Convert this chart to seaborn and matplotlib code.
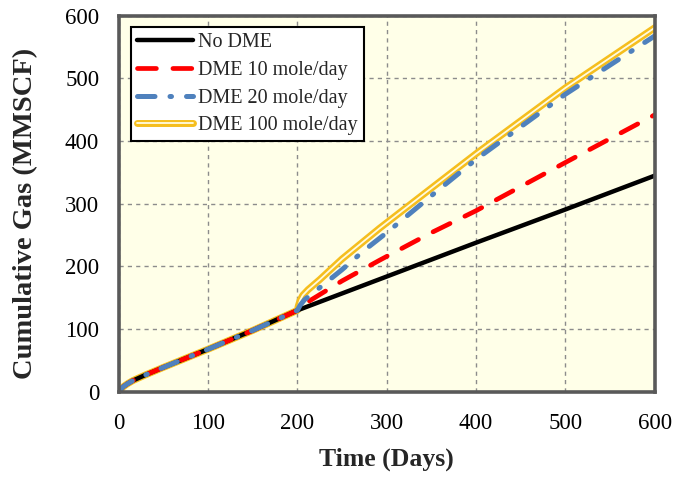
import matplotlib
matplotlib.use("Agg")
import matplotlib.pyplot as plt
import matplotlib.patheffects as pe
import seaborn as sns
import pandas as pd

# ---- data ----
days_pre = [0, 5, 10, 16, 30, 50, 100, 150, 200]
gas_pre = [0, 8, 13, 18, 27, 39, 68, 98, 130]

days_nodme = [250, 300, 400, 500, 600]
gas_nodme = [157, 184, 238, 291, 345]

days_dme10 = [205, 210, 250, 292, 350, 400, 500, 600]
gas_dme10 = [136, 142, 177, 210, 254, 289, 366, 442]

days_dme20 = [203, 208, 217, 250, 275, 300, 350, 400, 500, 600]
gas_dme20 = [138, 147, 157, 195, 226, 254, 313, 371, 475, 568]

days_dme100 = [201, 203, 206, 212, 225, 250, 292, 350, 400, 500, 600]
gas_dme100 = [137, 146, 154, 163, 179, 212, 261, 325, 380, 485, 581]

labels = ["No DME", "DME 10 mole/day", "DME 20 mole/day", "DME 100 mole/day"]
x_ticks = [0, 100, 200, 300, 400, 500, 600]
y_ticks = [0, 100, 200, 300, 400, 500, 600]

def series(d, g):
    return pd.DataFrame({"Time": days_pre + d, "Gas": gas_pre + g})

sns.set_style("white")
plt.rcParams["font.family"] = ["Liberation Serif", "DejaVu Serif"]

fig = plt.figure(figsize=(6.9, 4.79), dpi=100)
ax = fig.add_axes([0.172, 0.182, 0.777, 0.785])
ax.set_facecolor("#FFFFE8")

df100 = series(days_dme100, gas_dme100)
df0 = series(days_nodme, gas_nodme)
df10 = series(days_dme10, gas_dme10)
df20 = series(days_dme20, gas_dme20)

sns.lineplot(data=df100, x="Time", y="Gas", ax=ax, color="#FFFBE0", lw=1.3,
             estimator=None, sort=False, label=labels[3], zorder=3,
             path_effects=[pe.Stroke(linewidth=5, foreground="#F5BE1E"), pe.Normal()])
sns.lineplot(data=df0, x="Time", y="Gas", ax=ax, color="black", lw=3.2,
             estimator=None, sort=False, label=labels[0], zorder=4)
sns.lineplot(data=df10, x="Time", y="Gas", ax=ax, color="#FF0000", lw=3.4,
             estimator=None, sort=False, label=labels[1], zorder=5)
sns.lineplot(data=df20, x="Time", y="Gas", ax=ax, color="#4F81BD", lw=3.6,
             estimator=None, sort=False, label=labels[2], zorder=6)

lines = ax.get_lines()
lines[2].set_dashes([4, 3.5])
lines[2].set_dash_capstyle("round")
lines[3].set_dashes([3.5, 3, 0.3, 3])
lines[3].set_dash_capstyle("round")

ax.set_xlim(0, 600)
ax.set_ylim(0, 600)
ax.set_xticks(x_ticks)
ax.set_yticks(y_ticks)
ax.tick_params(axis="both", labelsize=16.5, colors="black", length=0)
ax.tick_params(axis="y", pad=14)
ax.tick_params(axis="x", length=5, color="#888888", direction="out", pad=10)
ax.grid(True, linestyle=(0, (3, 3)), color="#8C8C8C", lw=1.0)
for s in ax.spines.values():
    s.set_color("#595959")
    s.set_linewidth(2.6)
    s.set_zorder(10)

ax.set_xlabel("Time (Days)", fontsize=18.5, fontweight="bold", labelpad=10)
ax.set_ylabel("Cumulative Gas (MMSCF)", fontsize=20.5, fontweight="bold")
ax.yaxis.set_label_coords(-0.15, 0.475)

h, l = ax.get_legend_handles_labels()
order = [l.index(x) for x in labels]
leg = ax.legend([h[i] for i in order], [l[i] for i in order], loc="upper left",
                bbox_to_anchor=(0.015, 0.98), fontsize=14.5, frameon=True, fancybox=False,
                framealpha=1, edgecolor="black", handlelength=2.8, borderpad=0.3,
                labelspacing=0.42, handletextpad=0.25, borderaxespad=0.2)
leg.get_frame().set_linewidth(1.5)
leg.set_zorder(20)

fig.savefig("out.png", dpi=100, facecolor="white")
